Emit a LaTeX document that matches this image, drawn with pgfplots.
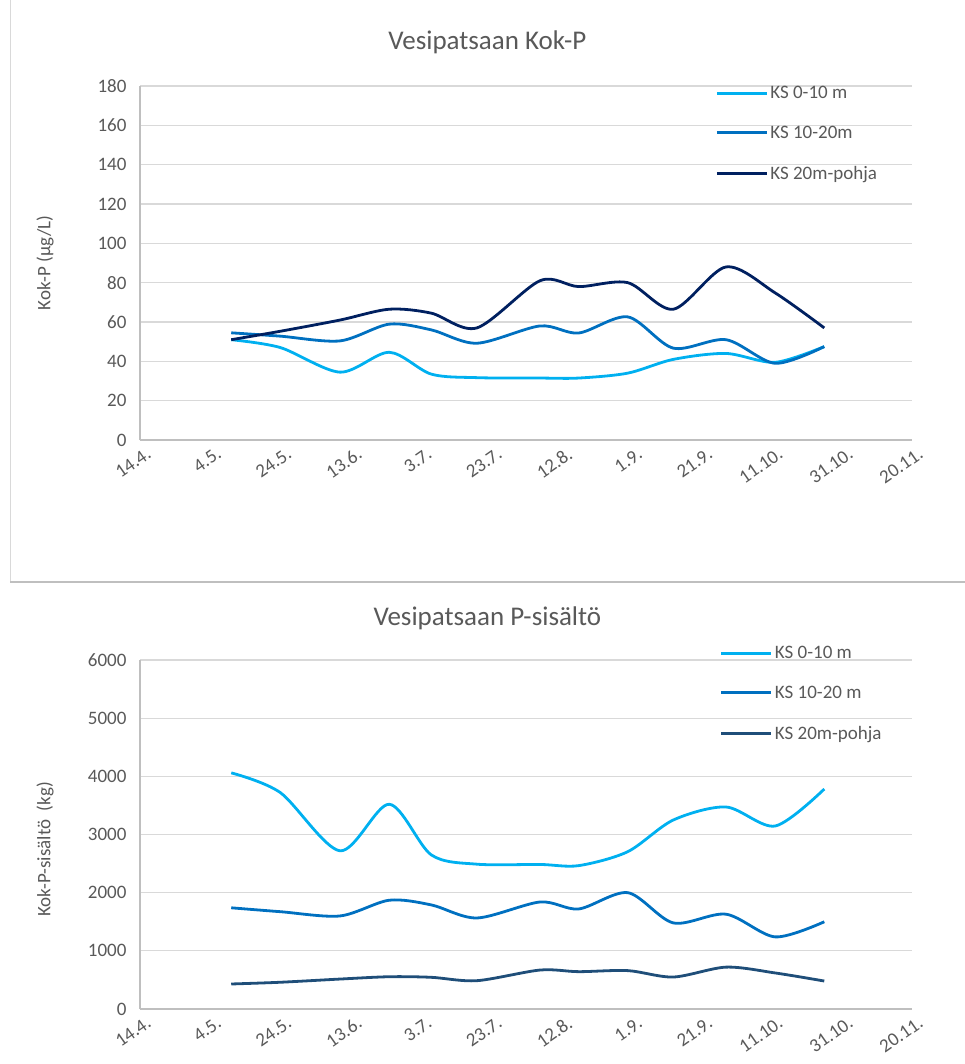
\documentclass[border=0pt]{standalone}
\usepackage{fontspec}
\setmainfont{Carlito}
\usepackage{pgfplots}
\pgfplotsset{compat=1.18}
\definecolor{cLight}{HTML}{00B0F0}
\definecolor{cMed}{HTML}{0070C0}
\definecolor{cNavy}{HTML}{002060}
\definecolor{cNavyB}{HTML}{1F4E79}
\definecolor{cGrid}{HTML}{D9D9D9}
\definecolor{cAxis}{HTML}{BFBFBF}
\definecolor{cText}{HTML}{595959}
\newcommand{\tickfont}{\fontsize{19}{22}\selectfont}
\newcommand{\titlefont}{\fontsize{27}{32}\selectfont}

\pgfplotstableread{
x  light  med   navy
26 51     54.5  51
40 47     52.8  55.3
57 34.5   50.4  61
71 44.6   58.9  66.5
83 33.5   56    64.5
96 31.7   49.2  57
114 31.5  58    81
125 31.5  54.4  78
139 34    62.6  80
152 41    46.7  66.5
167 44    51    88
181 39.5  39    74.8
195 47.5  47.5  57
}\topdata

\pgfplotstableread{
x  light  med   navy
26 4060   1740  430
40 3720   1673  460
57 2720   1600  515
71 3520   1870  555
83 2650   1790  545
96 2490   1565  487
114 2485  1840  670
125 2465  1720  642
139 2705  2000  660
152 3250  1480  550
167 3473  1630  720
181 3146  1240  620
195 3782  1500  481
}\botdata

\pgfplotsset{
  excel/.style={
    scale only axis, width=772pt,
    xmin=0, xmax=220, xtick={0,20,...,220},
    xticklabels={14.4.,4.5.,24.5.,13.6.,3.7.,23.7.,12.8.,1.9.,21.9.,11.10.,31.10.,20.11.},
    axis x line*=bottom, axis y line*=left,
    axis line style={cAxis, line width=1.4pt},
    ymajorgrids, grid style={cGrid, line width=1.3pt},
    major tick length=0pt,
    tick label style={font=\tickfont, text=cText},
    /pgf/number format/assume math mode=true,
    /pgf/number format/1000 sep={},
    xticklabel style={rotate=35, anchor=north east, xshift=4pt, yshift=-5pt},
    yticklabel style={anchor=east, xshift=-10pt},
    ylabel style={font=\tickfont, text=cText, at={(rel axis cs:0,0.5)}, anchor=center, yshift=95pt},
    title style={font=\titlefont, text=cText, at={(axis description cs:0.45,1)}, anchor=center},
    legend style={draw=none, fill=none, font=\tickfont, text=cText, anchor=north west, row sep=22pt, inner sep=0pt},
    legend cell align=left,
    legend image code/.code={\draw[#1, line width=3pt] (0pt,0pt) -- (50pt,0pt);},
    every axis plot/.append style={smooth, tension=0.5, line width=2.8pt, no marks},
  }
}

\begin{document}
\begin{tikzpicture}
\path[use as bounding box] (0,0) rectangle (965pt,-1064pt);
\draw[cGrid, line width=1pt] (10pt,0pt) -- (10pt,-582pt);
\draw[cAxis, line width=2pt] (10pt,-582pt) -- (965pt,-582pt);

\begin{axis}[excel, height=354pt, at={(140pt,-440pt)}, anchor=south west,
  ymin=0, ymax=180, ytick={0,20,...,180},
  ylabel={Kok-P (µg/L)},
  title={Vesipatsaan Kok-P},
  title style={yshift=38pt},
  legend style={at={(rel axis cs:0.745,1)}, yshift=2pt}]
\addplot[cLight] table[x=x, y=light] {\topdata};
\addlegendentry{KS 0-10 m}
\addplot[cMed] table[x=x, y=med] {\topdata};
\addlegendentry{KS 10-20m}
\addplot[cNavy] table[x=x, y=navy] {\topdata};
\addlegendentry{KS 20m-pohja}
\end{axis}

\begin{axis}[excel, height=349pt, at={(140pt,-1009pt)}, anchor=south west,
  ymin=0, ymax=6000, ytick={0,1000,...,6000},
  ylabel={Kok-P-sisältö\ \ (kg)},
  title={Vesipatsaan P-sisältö},
  title style={yshift=36pt},
  ylabel style={xshift=-15pt},
  legend style={at={(rel axis cs:0.751,1)}, yshift=16pt}]
\addplot[cLight] table[x=x, y=light] {\botdata};
\addlegendentry{KS 0-10 m}
\addplot[cMed] table[x=x, y=med] {\botdata};
\addlegendentry{KS 10-20 m}
\addplot[cNavyB] table[x=x, y=navy] {\botdata};
\addlegendentry{KS 20m-pohja}
\end{axis}
\end{tikzpicture}
\end{document}
